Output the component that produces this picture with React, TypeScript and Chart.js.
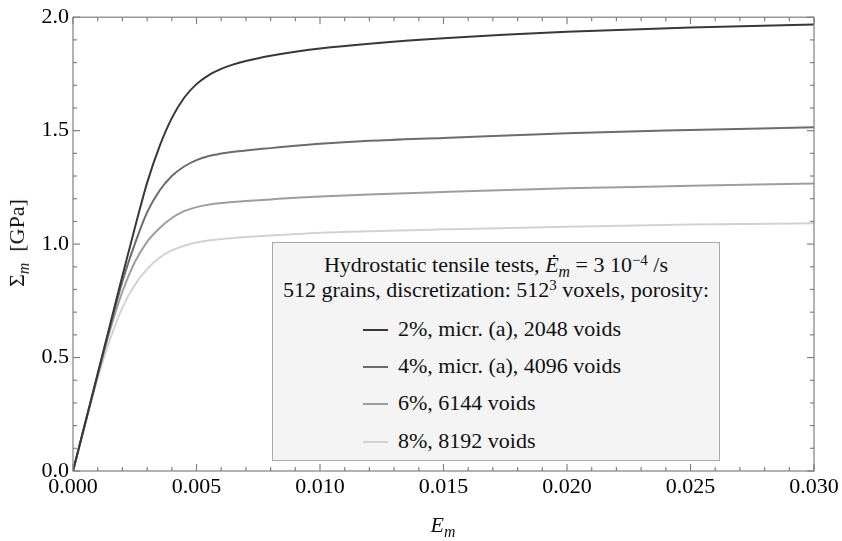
import React, { useEffect, useRef } from "react";
import { Chart, registerables } from "chart.js";

Chart.register(...registerables);

// ---- data ----
const strain = [0, 0.001, 0.0015, 0.002, 0.0025, 0.003, 0.0035, 0.004, 0.0045, 0.005, 0.0055, 0.006, 0.0065, 0.007, 0.008, 0.009, 0.010, 0.012, 0.015, 0.020, 0.025, 0.030];
const stress2 = [0, 0.43, 0.645, 0.86, 1.07, 1.27, 1.43, 1.555, 1.645, 1.705, 1.745, 1.772, 1.792, 1.807, 1.830, 1.848, 1.862, 1.883, 1.907, 1.936, 1.955, 1.968];
const stress4 = [0, 0.425, 0.635, 0.835, 1.0, 1.14, 1.235, 1.30, 1.342, 1.37, 1.388, 1.399, 1.407, 1.413, 1.423, 1.433, 1.442, 1.455, 1.468, 1.489, 1.503, 1.515];
const stress6 = [0, 0.42, 0.62, 0.79, 0.92, 1.01, 1.07, 1.115, 1.145, 1.163, 1.174, 1.181, 1.186, 1.190, 1.197, 1.204, 1.210, 1.219, 1.230, 1.246, 1.257, 1.267];
const stress8 = [0, 0.41, 0.58, 0.72, 0.82, 0.89, 0.94, 0.972, 0.993, 1.007, 1.016, 1.022, 1.027, 1.031, 1.038, 1.044, 1.050, 1.057, 1.065, 1.077, 1.086, 1.092];
const seriesLabels = ["2%, micr. (a), 2048 voids", "4%, micr. (a), 4096 voids", "6%, 6144 voids", "8%, 8192 voids"];
const seriesColors = ["#383838", "#6c6c6c", "#9e9e9e", "#d2d2d2"];
const xMin = 0, xMax = 0.03, xMajor = 0.005, xMinor = 0.001;
const yMin = 0, yMax = 2.0, yMajor = 0.5, yMinor = 0.1;

const FONT = "'Liberation Serif', 'Times New Roman', serif";

const frameTicks = {
  id: "frameTicks",
  afterDatasetsDraw(chart: any) {
    const { ctx, chartArea: a, scales } = chart;
    const x = scales.x, y = scales.y;
    ctx.save();
    ctx.strokeStyle = "#808080";
    ctx.lineWidth = 1.2;
    ctx.strokeRect(a.left, a.top, a.right - a.left, a.bottom - a.top);
    const seg = (x1: number, y1: number, x2: number, y2: number) => {
      ctx.beginPath(); ctx.moveTo(x1, y1); ctx.lineTo(x2, y2); ctx.stroke();
    };
    const nx = Math.round((xMax - xMin) / xMinor);
    const perX = Math.round(xMajor / xMinor);
    for (let i = 0; i <= nx; i++) {
      const px = x.getPixelForValue(xMin + i * xMinor);
      const len = i % perX === 0 ? 7 : 4;
      seg(px, a.bottom, px, a.bottom - len);
      seg(px, a.top, px, a.top + len);
    }
    const ny = Math.round((yMax - yMin) / yMinor);
    const perY = Math.round(yMajor / yMinor);
    for (let i = 0; i <= ny; i++) {
      const py = y.getPixelForValue(yMin + i * yMinor);
      const len = i % perY === 0 ? 7 : 4;
      seg(a.left, py, a.left + len, py);
      seg(a.right, py, a.right - len, py);
    }
    ctx.restore();
  },
};

const sub = (t: string) => (
  <span style={{ fontSize: "0.72em", fontStyle: "italic", position: "relative", top: "0.3em" }}>{t}</span>
);
const sup = (t: string) => (
  <span style={{ fontSize: "0.68em", position: "relative", top: "-0.5em" }}>{t}</span>
);

export default function App() {
  const ref = useRef<HTMLCanvasElement | null>(null);
  useEffect(() => {
    if (!ref.current) return;
    const all = [stress2, stress4, stress6, stress8];
    const chart = new Chart(ref.current, {
      type: "line",
      data: {
        datasets: all.map((s, k) => ({
          label: seriesLabels[k],
          data: strain.map((e, i) => ({ x: e, y: s[i] })),
          borderColor: seriesColors[k],
          borderWidth: 2,
          pointRadius: 0,
          fill: false,
          cubicInterpolationMode: "monotone" as const,
        })),
      },
      options: {
        responsive: false,
        animation: false,
        devicePixelRatio: 1,
        layout: { padding: { top: 12, right: 28, left: 0, bottom: 0 } },
        plugins: { legend: { display: false }, tooltip: { enabled: false } },
        scales: {
          x: {
            type: "linear",
            min: xMin,
            max: xMax,
            grid: { display: false, drawTicks: false },
            border: { display: false },
            ticks: {
              stepSize: xMajor,
              autoSkip: false,
              maxRotation: 0,
              padding: 3,
              color: "#000",
              font: { family: FONT, size: 22 },
              callback: (v: any) => Number(v).toFixed(3),
            },
            afterFit: (s: any) => { s.height = 70; },
          },
          y: {
            type: "linear",
            min: yMin,
            max: yMax,
            grid: { display: false, drawTicks: false },
            border: { display: false },
            ticks: {
              stepSize: yMajor,
              padding: 4,
              color: "#000",
              font: { family: FONT, size: 22 },
              callback: (v: any) => Number(v).toFixed(1),
            },
            afterFit: (s: any) => { s.width = 73; },
          },
        },
      },
      plugins: [frameTicks],
    });
    return () => chart.destroy();
  }, []);

  const entryTops = [73, 110, 147, 185];
  return (
    <div style={{ position: "absolute", left: 0, top: 0, width: 842, height: 541, background: "#fff", fontFamily: FONT, color: "#111" }}>
      <canvas ref={ref} width={842} height={541} style={{ position: "absolute", left: 0, top: 0, width: 842, height: 541 }} />
      <div style={{ position: "absolute", left: 18, top: 243, transform: "translate(-50%, -50%) rotate(-90deg)", whiteSpace: "nowrap", fontSize: 22, lineHeight: "26px" }}>
        Σ{sub("m")}&nbsp; [GPa]
      </div>
      <div style={{ position: "absolute", left: 443, top: 526, transform: "translate(-50%, -50%)", whiteSpace: "nowrap", fontSize: 22, lineHeight: "26px" }}>
        <i>E</i>{sub("m")}
      </div>
      <div style={{ position: "absolute", left: 272, top: 242, width: 448, height: 219, boxSizing: "border-box", background: "#f4f4f4", border: "1px solid #a9a9a9", fontSize: 22 }}>
        <div style={{ position: "absolute", left: 0, width: "100%", top: 9, lineHeight: "26px", textAlign: "center", whiteSpace: "nowrap" }}>
          Hydrostatic tensile tests, <i>Ė</i>{sub("m")} = 3 10{sup("−4")} /s
        </div>
        <div style={{ position: "absolute", left: 0, width: "100%", top: 34, lineHeight: "26px", textAlign: "center", whiteSpace: "nowrap" }}>
          512 grains, discretization: 512{sup("3")} voxels, porosity:
        </div>
        {seriesLabels.map((l, k) => (
          <div key={k} style={{ position: "absolute", left: 90, top: entryTops[k], height: 26, lineHeight: "26px", whiteSpace: "nowrap" }}>
            <span style={{ position: "absolute", left: 0, top: 13, width: 25, height: 2, background: seriesColors[k] }} />
            <span style={{ position: "absolute", left: 35, top: 0 }}>{l}</span>
          </div>
        ))}
      </div>
    </div>
  );
}
